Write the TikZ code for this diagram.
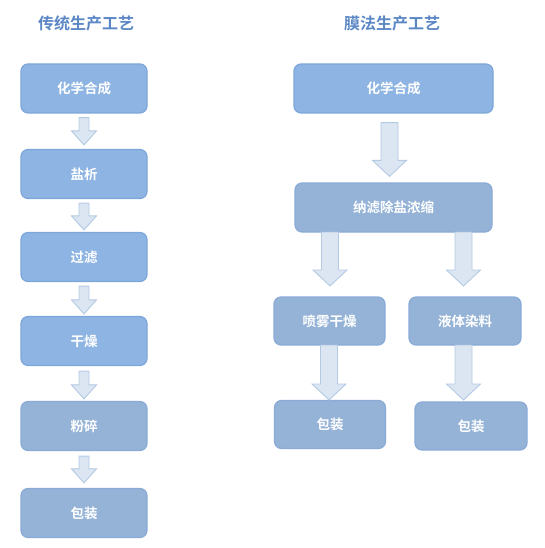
\documentclass[tikz,border=0pt]{standalone}
\usepackage{fontspec}
\newfontfamily\cjk{Noto Sans CJK SC Bold}
\newfontfamily\cjkb{Noto Sans CJK SC Bold}
\usetikzlibrary{calc}
\definecolor{bright}{HTML}{8DB4E2}
\definecolor{brightedge}{HTML}{7DA7DA}
\definecolor{greyb}{HTML}{95B3D7}
\definecolor{greyedge}{HTML}{8AABD6}
\definecolor{arrfill}{HTML}{DCE6F2}
\definecolor{arredge}{HTML}{B4CAE4}
\definecolor{titlec}{HTML}{5B87C5}
\tikzset{
  box/.style={draw=brightedge, fill=bright, line width=1.2pt, rounded corners=7pt,
    text=white, font=\cjk\fontsize{13.5}{15}\selectfont, inner sep=0pt, align=center},
  boxg/.style={box, draw=greyedge, fill=greyb},
  ttl/.style={text=titlec, font=\cjkb\fontsize{16}{18}\selectfont},
  arr/.style={draw=arredge, fill=arrfill, line width=0.9pt, line join=miter},
}
% #1 start, #2 end, #3 shaft half width, #4 head half width, #5 head length
\newcommand\blockarr[5]{%
  \draw[arr] let \p1=(#1), \p2=(#2) in
    (\x1-#3,\y1) -- (\x1+#3,\y1) -- (\x1+#3,\y2+#5) -- (\x1+#4,\y2+#5) --
    (\x1,\y2) -- (\x1-#4,\y2+#5) -- (\x1-#3,\y2+#5) -- cycle;}
\begin{document}
\begin{tikzpicture}[x=1pt,y=-1pt]
\useasboundingbox (0,0) rectangle (544,548);
% titles
\node[ttl] (t1) at (86,23) {传统生产工艺};
\node[ttl] (t2) at (392,23) {膜法生产工艺};
% left column
\node[box,  minimum width=126pt, minimum height=49pt] (l1) at (84,88.5) {化学合成};
\node[box,  minimum width=126pt, minimum height=49pt] (l2) at (84,174) {盐析};
\node[box,  minimum width=126pt, minimum height=49pt] (l3) at (84,257) {过滤};
\node[box,  minimum width=126pt, minimum height=49pt] (l4) at (84,341) {干燥};
\node[boxg, minimum width=126pt, minimum height=49pt] (l5) at (84,426) {粉碎};
\node[boxg, minimum width=126pt, minimum height=49pt] (l6) at (84,513) {包装};
\blockarr{$(l1.south)+(0,4)$}{$(l2.north)+(0,-4)$}{5}{12.5}{14}
\blockarr{$(l2.south)+(0,4)$}{$(l3.north)+(0,-2)$}{5}{12.5}{14}
\blockarr{$(l3.south)+(0,4)$}{$(l4.north)+(0,-2)$}{5}{12.5}{14}
\blockarr{$(l4.south)+(0,5)$}{$(l5.north)+(0,-2)$}{5}{12.5}{14}
\blockarr{$(l5.south)+(0,5)$}{$(l6.north)+(0,-5)$}{5}{12.5}{14}
% right column
\node[box,  minimum width=199pt, minimum height=49pt] (r1) at (393.5,88.5) {化学合成};
\node[boxg, minimum width=197pt, minimum height=49pt] (r2) at (393.5,207.5) {纳滤除盐浓缩};
\node[boxg, minimum width=111pt, minimum height=48pt] (r3) at (329.5,321) {喷雾干燥};
\node[boxg, minimum width=112pt, minimum height=48pt] (r4) at (465,321) {液体染料};
\node[boxg, minimum width=111pt, minimum height=48pt] (r5) at (330,424.5) {包装};
\node[boxg, minimum width=112pt, minimum height=48pt] (r6) at (471,426) {包装};
\coordinate (a2s) at (330,232);
\coordinate (a2e) at (330,286);
\coordinate (a3s) at (463.5,232);
\coordinate (a3e) at (463.5,286);
\coordinate (a4s) at (329,345);
\coordinate (a4e) at (329,400);
\coordinate (a5s) at (463.5,345);
\coordinate (a5e) at (463.5,400);
\blockarr{$(r1.south)+(-4,9)$}{$(r2.north)+(-4,-6)$}{8.5}{17}{16}
\blockarr{a2s}{a2e}{8.5}{17}{16}
\blockarr{a3s}{a3e}{8.5}{17}{16}
\blockarr{a4s}{a4e}{8.5}{17}{16}
\blockarr{a5s}{a5e}{8.5}{17}{16}
\end{tikzpicture}
\end{document}
